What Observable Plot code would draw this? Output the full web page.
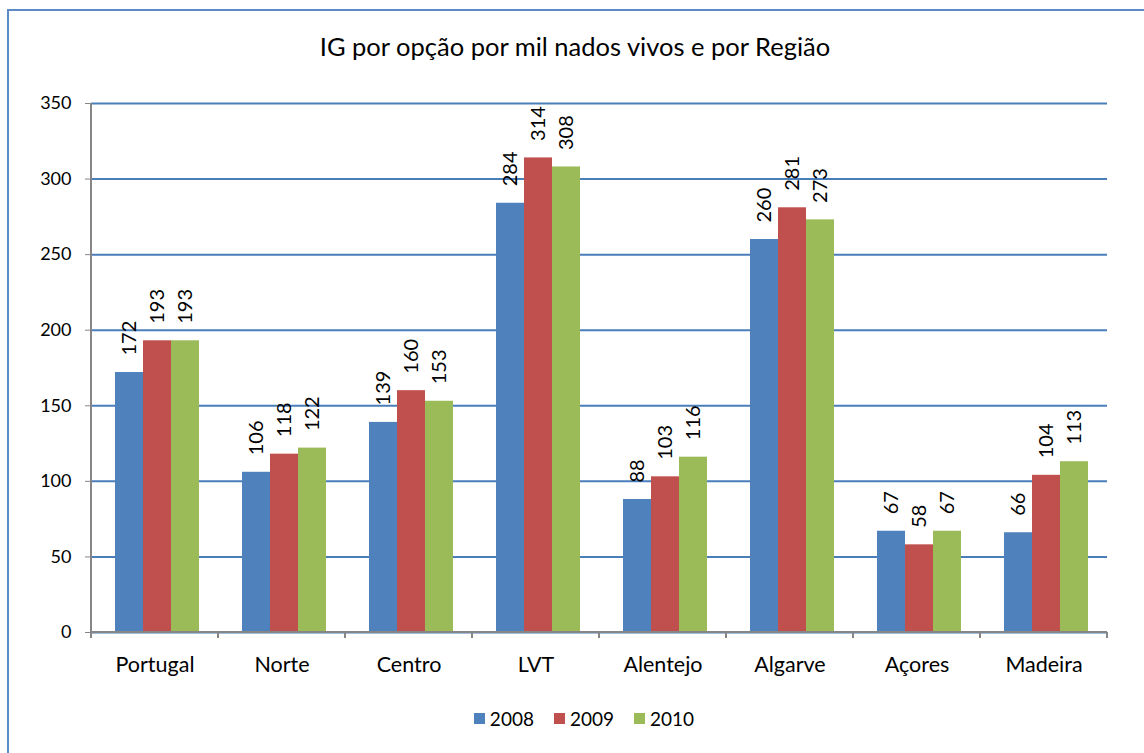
<!DOCTYPE html>
<html>
<head>
<meta charset="utf-8">
<script src="https://cdn.jsdelivr.net/npm/d3@7"></script>
<script src="https://cdn.jsdelivr.net/npm/@observablehq/plot@0.6"></script>
<style>
  body { margin: 0; background: #fff; font-family: Lato, "Open Sans", sans-serif; width: 1144px; height: 753px; overflow: hidden; position: relative; }
  #frame { position: absolute; left: 7px; top: 9px; width: 1200px; height: 800px; border: 2px solid #5B8AC6; border-right: none; border-bottom: none; }
  #title { position: absolute; left: 0; top: 31px; width: 1150px; text-align: center; font-size: 25.5px; color: #000; }
  #chart { position: absolute; left: 0; top: 80px; }
  #chart svg text { fill: #000; }
  #legend { position: absolute; left: 0; top: 707px; width: 1168px; display: flex; justify-content: center; font-size: 19px; color: #000; }
  .item { display: flex; align-items: center; margin: 0 10px; }
  .sw { width: 11px; height: 11px; margin-right: 5px; }
</style>
</head>
<body>
<div id="frame"></div>
<div id="title">IG por opção por mil nados vivos e por Região</div>
<div id="chart"></div>
<div id="legend"></div>
<script>
const regions = ["Portugal", "Norte", "Centro", "LVT", "Alentejo", "Algarve", "Açores", "Madeira"];
const years = ["2008", "2009", "2010"];
const v2008 = [172, 106, 139, 284, 88, 260, 67, 66];
const v2009 = [193, 118, 160, 314, 103, 281, 58, 104];
const v2010 = [193, 122, 153, 308, 116, 273, 67, 113];
const yTicks = [0, 50, 100, 150, 200, 250, 300, 350];
const colors = ["#4F81BD", "#C0504D", "#9BBB59"];

const series = [v2008, v2009, v2010];
const rows = regions.flatMap((r, i) => years.map((y, j) => ({region: r, year: y, value: series[j][i]})));

const chart = Plot.plot({
  width: 1144,
  height: 600,
  marginTop: 23,
  marginBottom: 48,
  marginLeft: 88,
  marginRight: 34,
  style: {fontFamily: "Lato, 'Open Sans', sans-serif", fontSize: "18px", color: "#868686", background: "transparent"},
  fx: {domain: regions, padding: 0, label: null, axis: "bottom", tickSize: 0, tickPadding: 24, fontSize: 21.5},
  x: {domain: years, paddingInner: 0, paddingOuter: 0.75, align: 0.55, axis: null},
  y: {domain: [0, 350], ticks: yTicks, tickSize: 6, tickPadding: 14, label: null},
  color: {domain: years, range: colors},
  marks: [
    Plot.ruleY(yTicks, {stroke: "#4A7EBB", strokeWidth: 2}),
    Plot.barY(rows, {fx: "region", x: "year", y: "value", fill: "year"}),
    Plot.text(rows, {fx: "region", x: "year", y: "value", text: d => String(d.value), rotate: -90, textAnchor: "start", dy: -17, fontSize: 20, fill: "#000"})
  ]
});
document.getElementById("chart").appendChild(chart);

// facet (category) labels: match reference size
d3.select(chart).selectAll("text").each(function() {
  if (regions.includes(this.textContent)) d3.select(this).style("font-size", "21.5px");
});

// axis lines and category boundary ticks drawn from Plot's own scales
const fxS = chart.scale("fx");
const yS = chart.scale("y");
const svg = d3.select(chart);
const y0 = yS.apply(0), yTop = yS.apply(350);
const xStart = fxS.apply(regions[0]);
const xEnd = fxS.apply(regions[regions.length - 1]) + fxS.bandwidth;
const g = svg.append("g").attr("stroke", "#868686").attr("stroke-width", 2);
g.append("line").attr("x1", xStart).attr("x2", xStart).attr("y1", yTop).attr("y2", y0 + 6);
g.append("line").attr("x1", xStart).attr("x2", xEnd).attr("y1", y0).attr("y2", y0);
regions.forEach(r => {
  const x = fxS.apply(r);
  g.append("line").attr("x1", x).attr("x2", x).attr("y1", y0).attr("y2", y0 + 6);
});
g.append("line").attr("x1", xEnd).attr("x2", xEnd).attr("y1", y0).attr("y2", y0 + 6);

// legend
const legend = d3.select("#legend");
years.forEach((y, i) => {
  const it = legend.append("div").attr("class", "item");
  it.append("div").attr("class", "sw").style("background", colors[i]);
  it.append("span").text(y);
});
</script>
</body>
</html>
